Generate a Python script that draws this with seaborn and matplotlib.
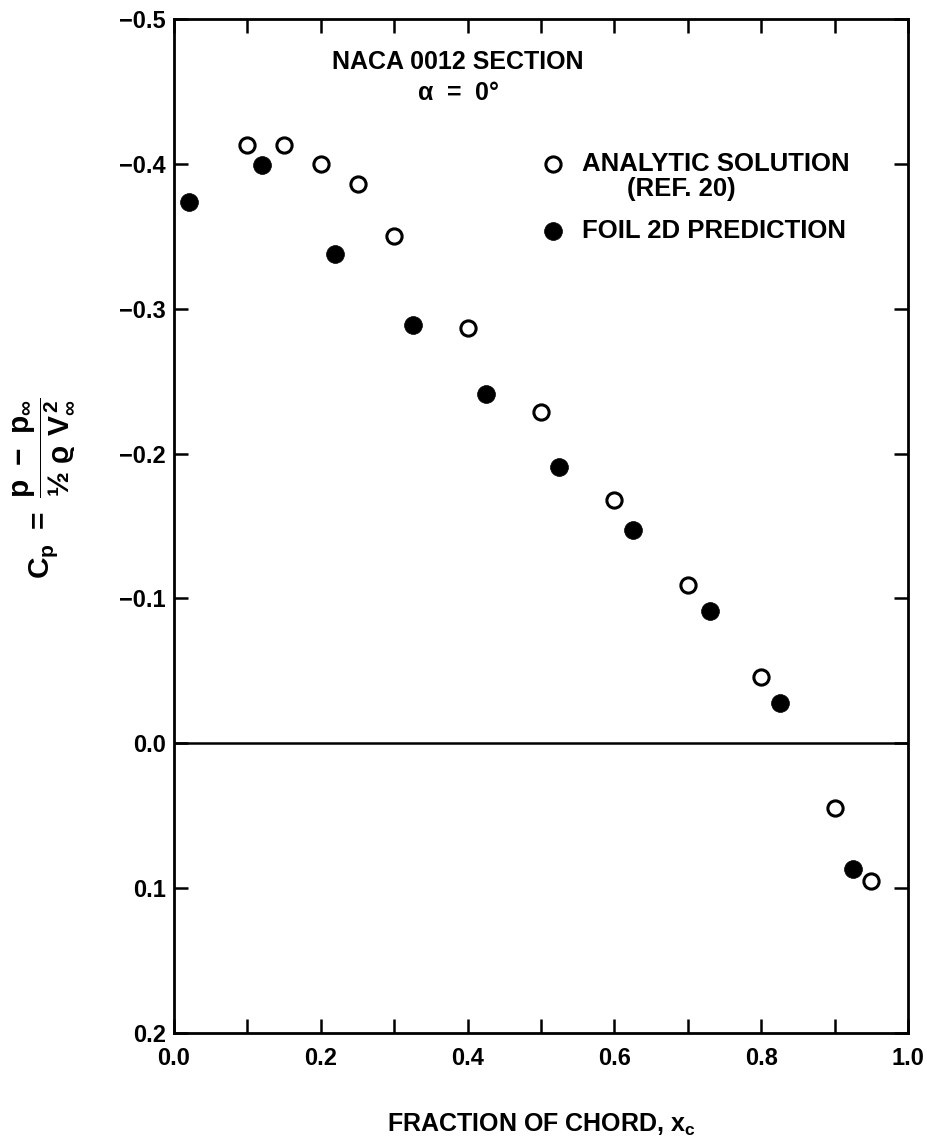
import matplotlib
matplotlib.use("Agg")
import matplotlib.pyplot as plt
import seaborn as sns
import pandas as pd
import numpy as np
from matplotlib.ticker import MultipleLocator, FuncFormatter

# ---- data ----
analytic_x = [0.10, 0.15, 0.20, 0.25, 0.30, 0.40, 0.50, 0.60, 0.70, 0.80, 0.90, 0.95]
analytic_cp = [-0.413, -0.413, -0.400, -0.386, -0.350, -0.287, -0.229, -0.168, -0.109, -0.046, 0.045, 0.095]
foil_x = [0.02, 0.12, 0.22, 0.325, 0.425, 0.525, 0.625, 0.73, 0.825, 0.925]
foil_cp = [-0.374, -0.399, -0.338, -0.289, -0.241, -0.191, -0.147, -0.091, -0.028, 0.087]
x_ticks = [0.0, 0.2, 0.4, 0.6, 0.8, 1.0]
y_ticks = [-0.5, -0.4, -0.3, -0.2, -0.1, 0.0, 0.1, 0.2]

sns.set_theme(style="white")
FAM = ['Liberation Sans', 'DejaVu Sans']
plt.rcParams['font.family'] = FAM
plt.rcParams['font.weight'] = 'bold'
plt.rcParams['text.color'] = 'black'
plt.rcParams['axes.labelcolor'] = 'black'
plt.rcParams['xtick.color'] = 'black'
plt.rcParams['ytick.color'] = 'black'
plt.rcParams['mathtext.fontset'] = 'custom'
plt.rcParams['mathtext.rm'] = 'Liberation Sans:bold'
plt.rcParams['mathtext.bf'] = 'Liberation Sans:bold'
plt.rcParams['mathtext.it'] = 'Liberation Sans:italic:bold'
plt.rcParams['mathtext.default'] = 'bf'

fig = plt.figure(figsize=(9.27, 11.42), dpi=100)
ax = fig.add_axes([174/927, 1 - 1033/1142, (908-174)/927, (1033-19)/1142])

df_a = pd.DataFrame({'x': analytic_x, 'cp': analytic_cp})
df_f = pd.DataFrame({'x': foil_x, 'cp': foil_cp})

sns.scatterplot(data=df_a, x='x', y='cp', ax=ax, marker='o', s=120,
                facecolor='white', edgecolor='black', linewidth=2.2,
                label='ANALYTIC SOLUTION', zorder=3)
sns.scatterplot(data=df_f, x='x', y='cp', ax=ax, marker='o', s=165,
                color='black', edgecolor='black', linewidth=0.5,
                label='FOIL 2D PREDICTION', zorder=3)

ax.axhline(0.0, color='black', lw=1.8, zorder=2)

ax.set_xlim(0.0, 1.0)
ax.set_ylim(0.2, -0.5)
ax.set_xticks(x_ticks)
ax.xaxis.set_minor_locator(MultipleLocator(0.1))
ax.set_yticks(y_ticks)
fmt = FuncFormatter(lambda v, p: ('%.1f' % v).replace('-', '\u2212') if abs(v) > 1e-9 else '0.0')
ax.xaxis.set_major_formatter(FuncFormatter(lambda v, p: '%.1f' % v))
ax.yaxis.set_major_formatter(fmt)

for sp in ax.spines.values():
    sp.set_color('black')
    sp.set_linewidth(2.0)

ax.tick_params(axis='both', which='both', direction='in', length=10, width=1.8,
               color='black', top=True, right=True, bottom=True, left=True,
               labelsize=17, labelcolor='black')
ax.tick_params(axis='x', pad=10)
ax.tick_params(axis='y', pad=6)
for lab in ax.get_xticklabels() + ax.get_yticklabels():
    lab.set_fontweight('bold')

ax.set_xlabel(r'FRACTION OF CHORD, x$_\mathbf{c}$', fontsize=18, fontweight='bold',
              labelpad=30, color='black')
ax.set_ylabel('')

fig.text(44/927, 1 - 488/1142,
         r'$C_p\ =\ \dfrac{p\ -\ p_\infty}{½\ \varrho\ V_\infty^{\,2}}$',
         rotation=90, ha='center', va='center', fontsize=21.5, color='black')

ax.text(0.387, 0.958, 'NACA 0012 SECTION', transform=ax.transAxes, ha='center',
        va='center', fontsize=18, fontweight='bold')
ax.text(0.387, 0.927, r'$\alpha$  =  0°', transform=ax.transAxes, ha='center',
        va='center', fontsize=18, fontweight='bold')

leg = ax.legend(loc='upper left', bbox_to_anchor=(0.4986, 0.869), frameon=False,
                fontsize=18.5, handletextpad=0.63, labelspacing=1.67, borderpad=0,
                borderaxespad=0, handlelength=1.0)
for t in leg.get_texts():
    t.set_fontweight('bold')
    t.set_color('black')
ax.text(0.617, 0.832, '(REF. 20)', transform=ax.transAxes, ha='left', va='center',
        fontsize=18.5, fontweight='bold')

fig.savefig('out.png', dpi=100, facecolor='white')
